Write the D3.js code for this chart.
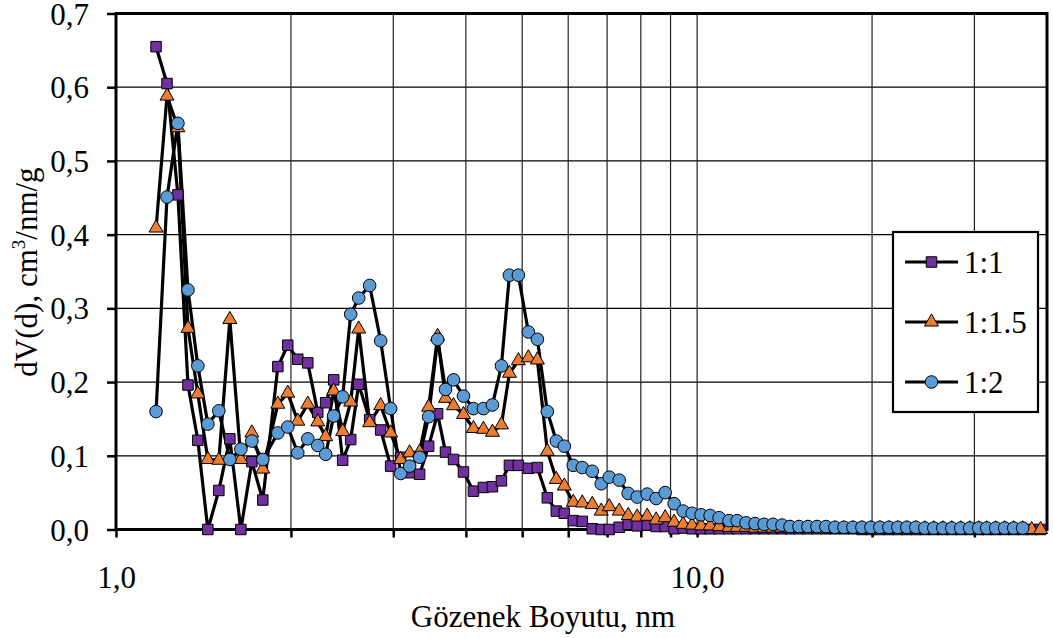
<!DOCTYPE html>
<html>
<head>
<meta charset="utf-8">
<script src="https://cdn.jsdelivr.net/npm/d3@7"></script>
<style>
  html, body { margin: 0; padding: 0; background: #fff; }
  svg { display: block; }
  svg text { font-family: "Liberation Serif", "Times New Roman", Times, serif; fill: #000; }
</style>
</head>
<body>
<div id="chart"></div>
<script>
// ---- data ----
const poreSize = [1.172, 1.224, 1.278, 1.330, 1.383, 1.439, 1.503, 1.570, 1.640, 1.713,
  1.789, 1.899, 1.975, 2.055, 2.138, 2.224, 2.295, 2.369, 2.455, 2.534,
  2.616, 2.732, 2.854, 2.969, 3.089, 3.201, 3.330, 3.451, 3.576, 3.690,
  3.809, 3.962, 4.122, 4.288, 4.444, 4.605, 4.753, 4.925, 5.124, 5.310,
  5.524, 5.724, 5.908, 6.122, 6.344, 6.600, 6.839, 7.059, 7.344, 7.610,
  7.886, 8.204, 8.502, 8.810, 9.129, 9.461, 9.804, 10.16, 10.53, 10.91,
  11.35, 11.72, 12.14, 12.58, 13.04, 13.51, 14.00, 14.45, 14.97, 15.51,
  16.08, 16.66, 17.26, 17.89, 18.54, 19.21, 19.91, 20.63, 21.38, 22.15,
  22.95, 23.79, 24.65, 25.54, 26.47, 27.43, 28.42, 29.45, 30.52, 31.50,
  32.64, 33.82, 35.05, 36.32, 37.64, 39.00];

const series11 = [0.655, 0.605, 0.454, 0.196, 0.121, 0.000, 0.053, 0.123, 0.000, 0.092,
  0.040, 0.221, 0.250, 0.231, 0.226, 0.159, 0.172, 0.203, 0.094, 0.122,
  0.197, 0.149, 0.135, 0.086, 0.098, 0.077, 0.075, 0.113, 0.157, 0.105,
  0.095, 0.078, 0.052, 0.057, 0.058, 0.066, 0.087, 0.087, 0.083, 0.084,
  0.043, 0.025, 0.022, 0.012, 0.011, 0.001, 0.000, 0.000, 0.003, 0.007,
  0.005, 0.006, 0.004, 0.004, 0.001, 0.002, 0.001, 0.001, 0.001, 0.001,
  0.001, 0.001, 0.001, 0.001, 0.001, 0.001, 0.001, 0.001, 0.001, 0.001,
  0.001, 0.001, 0.001, 0.001, 0.001, 0.000, 0.000, 0.000, 0.000, 0.000,
  0.000, 0.000, 0.000, 0.000, 0.000, 0.000, 0.000, 0.000, 0.000, 0.000,
  0.000, 0.000, 0.000, 0.000, 0.000, 0.000];

const series115 = [0.409, 0.588, 0.545, 0.273, 0.184, 0.095, 0.094, 0.285, 0.095, 0.131,
  0.082, 0.170, 0.185, 0.147, 0.170, 0.146, 0.126, 0.188, 0.133, 0.173,
  0.272, 0.145, 0.168, 0.131, 0.095, 0.104, 0.105, 0.166, 0.262, 0.178,
  0.168, 0.156, 0.137, 0.136, 0.132, 0.142, 0.212, 0.229, 0.233, 0.230,
  0.106, 0.068, 0.059, 0.037, 0.036, 0.034, 0.025, 0.031, 0.025, 0.019,
  0.017, 0.018, 0.013, 0.016, 0.010, 0.007, 0.006, 0.005, 0.005, 0.004,
  0.003, 0.003, 0.003, 0.002, 0.002, 0.002, 0.002, 0.002, 0.002, 0.002,
  0.002, 0.001, 0.001, 0.001, 0.001, 0.001, 0.001, 0.001, 0.001, 0.001,
  0.001, 0.001, 0.001, 0.001, 0.001, 0.001, 0.001, 0.001, 0.001, 0.001,
  0.001, 0.001, 0.001, 0.001, 0.000, 0.000];

const series12 = [0.160, 0.451, 0.551, 0.325, 0.222, 0.143, 0.161, 0.095, 0.109, 0.120,
  0.095, 0.131, 0.139, 0.104, 0.123, 0.114, 0.102, 0.154, 0.180, 0.292,
  0.314, 0.331, 0.256, 0.164, 0.076, 0.086, 0.098, 0.153, 0.258, 0.190,
  0.203, 0.181, 0.164, 0.164, 0.169, 0.222, 0.345, 0.345, 0.268, 0.258,
  0.160, 0.120, 0.113, 0.087, 0.084, 0.079, 0.062, 0.071, 0.067, 0.049,
  0.044, 0.048, 0.042, 0.050, 0.035, 0.025, 0.022, 0.020, 0.019, 0.016,
  0.012, 0.012, 0.009, 0.008, 0.007, 0.007, 0.006, 0.004, 0.004, 0.004,
  0.004, 0.004, 0.003, 0.003, 0.003, 0.003, 0.003, 0.003, 0.003, 0.003,
  0.003, 0.003, 0.002, 0.002, 0.002, 0.002, 0.002, 0.002, 0.002, 0.002,
  0.002, 0.002, 0.002, 0.002];

const seriesNames = ["1:1", "1:1.5", "1:2"];
const seriesColors = ["#7030A0", "#ED7D31", "#5B9BD5"];
const seriesShapes = ["square", "triangle", "circle"];
const xTickValues = [1, 2, 3, 4, 5, 6, 7, 8, 9, 10, 20, 30];
const xLabelValues = [1, 10];
const yTickValues = [0, 0.1, 0.2, 0.3, 0.4, 0.5, 0.6, 0.7];
const xTitle = "Gözenek Boyutu, nm";

// ---- drawing ----
(function () {
const W = 1053, H = 638;
const pLeft = 116, pRight = 1047, pTop = 13.5, pBottom = 529.5;
const FS = 31;

const svg = d3.select("#chart").append("svg").attr("width", W).attr("height", H)
  .attr("font-family", "Liberation Serif, Times New Roman, serif");
svg.append("rect").attr("width", W).attr("height", H).attr("fill", "#fff");

const x = d3.scaleLog().domain([1, 40]).range([pLeft, pRight]);
const y = d3.scaleLinear().domain([0, 0.7]).range([pBottom, pTop]);

// grid
svg.append("g").selectAll("line").data(yTickValues.filter(v => v > 0 && v < 0.7))
  .join("line")
  .attr("x1", pLeft).attr("x2", pRight)
  .attr("y1", d => y(d)).attr("y2", d => y(d))
  .attr("stroke", "#000").attr("stroke-width", 1.3);
svg.append("g").selectAll("line").data(xTickValues.filter(v => v > 1))
  .join("line")
  .attr("x1", d => x(d)).attr("x2", d => x(d))
  .attr("y1", pTop).attr("y2", pBottom)
  .attr("stroke", "#222").attr("stroke-width", 1.2);

// axes
const fmt = d => d.toFixed(1).replace(".", ",");
const xAxis = d3.axisBottom(x).tickValues(xTickValues).tickSize(8)
  .tickFormat(d => xLabelValues.includes(d) ? fmt(d) : "");
const gx = svg.append("g").attr("transform", `translate(0,${pBottom})`).call(xAxis);
gx.attr("font-family", null);
gx.select(".domain").remove();
gx.selectAll(".tick line").attr("stroke", "#000").attr("stroke-width", 2.5);
gx.selectAll(".tick text").attr("font-size", FS).attr("y", 0).attr("dy", null)
  .attr("transform", "translate(0,58)");

const yAxis = d3.axisLeft(y).tickValues(yTickValues).tickSize(9).tickFormat(fmt);
const gy = svg.append("g").attr("transform", `translate(${pLeft},0)`).call(yAxis);
gy.attr("font-family", null);
gy.select(".domain").remove();
gy.selectAll(".tick line").attr("stroke", "#000").attr("stroke-width", 2.5);
gy.selectAll(".tick text").attr("font-size", FS).attr("x", -27).attr("dy", "0.34em");

// frame
svg.append("rect").attr("x", pLeft).attr("y", pTop)
  .attr("width", pRight - pLeft).attr("height", pBottom - pTop)
  .attr("fill", "none").attr("stroke", "#000").attr("stroke-width", 3);

// series
const allSeries = [series11, series115, series12].map((vals, i) => ({
  name: seriesNames[i], color: seriesColors[i], shape: seriesShapes[i],
  points: vals.map((v, j) => ({ x: poreSize[j], y: v }))
}));

const line = d3.line().x(d => x(d.x)).y(d => y(d.y));
const symbolFor = s => s === "square" ? d3.symbolSquare : s === "triangle" ? d3.symbolTriangle : d3.symbolCircle;
const sizeFor = s => s === "square" ? 110 : s === "triangle" ? 85 : 125;

const plot = svg.append("g");
allSeries.forEach(s => {
  plot.append("path").datum(s.points)
    .attr("d", line).attr("fill", "none")
    .attr("stroke", "#000").attr("stroke-width", 3.2).attr("stroke-linejoin", "round");
});
allSeries.forEach(s => {
  plot.append("g").selectAll("path").data(s.points).join("path")
    .attr("transform", d => `translate(${x(d.x)},${y(d.y)})`)
    .attr("d", d3.symbol().type(symbolFor(s.shape)).size(sizeFor(s.shape)))
    .attr("fill", s.color).attr("stroke", "#000").attr("stroke-width", 1);
});

// legend
const lg = svg.append("g");
lg.append("rect").attr("x", 893).attr("y", 232).attr("width", 145).attr("height", 180)
  .attr("fill", "#fff").attr("stroke", "#000").attr("stroke-width", 2.2);
allSeries.forEach((s, i) => {
  const ly = 262 + i * 60;
  lg.append("line").attr("x1", 905).attr("x2", 958).attr("y1", ly).attr("y2", ly)
    .attr("stroke", "#000").attr("stroke-width", 3.2);
  lg.append("path").attr("transform", `translate(931.5,${ly})`)
    .attr("d", d3.symbol().type(symbolFor(s.shape)).size(sizeFor(s.shape)))
    .attr("fill", s.color).attr("stroke", "#000").attr("stroke-width", 1);
  lg.append("text").attr("x", 964).attr("y", ly).attr("dy", "0.35em")
    .attr("font-size", FS).text(s.name);
});

// titles
svg.append("text").attr("x", 543).attr("y", 627).attr("text-anchor", "middle")
  .attr("font-size", FS).text(xTitle);
const yt = svg.append("text").attr("transform", "translate(37,272) rotate(-90)")
  .attr("text-anchor", "middle").attr("font-size", FS);
yt.append("tspan").text("dV(d), cm");
yt.append("tspan").attr("font-size", 19).attr("dy", -12).text("3");
yt.append("tspan").attr("dy", 12).text("/nm/g");
})();
</script>
</body>
</html>
